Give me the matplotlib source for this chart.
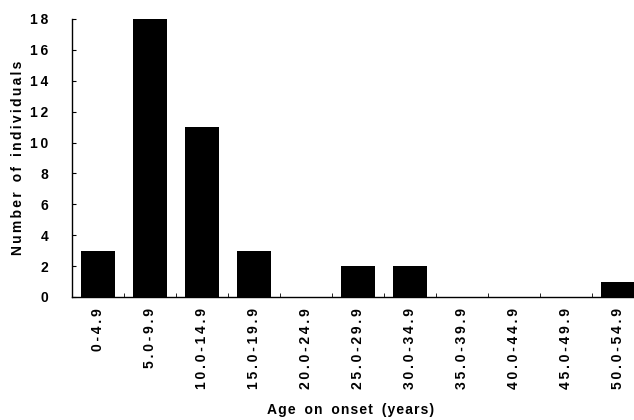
import matplotlib
matplotlib.use("Agg")
import matplotlib.pyplot as plt
import numpy as np

categories = ["0-4.9", "5.0-9.9", "10.0-14.9", "15.0-19.9", "20.0-24.9",
              "25.0-29.9", "30.0-34.9", "35.0-39.9", "40.0-44.9",
              "45.0-49.9", "50.0-54.9"]
counts = [3, 18, 11, 3, 0, 2, 2, 0, 0, 0, 1]
y_ticks = [0, 2, 4, 6, 8, 10, 12, 14, 16, 18]

FAM = ['Liberation Sans', 'DejaVu Sans']
plt.rcParams['font.family'] = FAM


def spaced(s, gap='\u2009'):
    return gap.join(s).replace(gap + ' ' + gap, ' ' + gap + ' ')


fig = plt.figure(figsize=(6.34, 4.2), dpi=100)
ax = fig.add_axes([72/634, 1-297/420, 1-72/634, (297-19)/420])

x = np.arange(len(categories))
ax.bar(x, counts, width=0.65, color='black')

ax.set_xlim(-0.5, len(categories) - 0.69)
ax.set_ylim(0, 18)
ax.set_yticks(y_ticks)
ax.set_yticklabels([spaced(str(v)) for v in y_ticks], fontsize=10, fontweight='bold')
ax.set_xticks(x)
ax.set_xticklabels([spaced(c) for c in categories], rotation=90, fontsize=10,
                   fontweight='bold')
ax.set_xticks(x[:-1] + 0.5, minor=True)

for s in ['top', 'right']:
    ax.spines[s].set_visible(False)
ax.spines['left'].set_linewidth(1.0)
ax.spines['bottom'].set_linewidth(1.0)

ax.tick_params(axis='y', direction='in', length=3, pad=17)
ax.tick_params(axis='x', which='major', length=0, pad=8)
ax.tick_params(axis='x', which='minor', direction='in', length=3)

fig.text(351/634, 1-410/420, spaced("Age on onset (years)", '\u200a'),
         ha='center', va='center', fontsize=10, fontweight='bold')
fig.text(18/634, 1-158/420, spaced("Number of individuals", '\u2006'),
         ha='center', va='center', rotation=90, fontsize=10, fontweight='bold')

fig.savefig("out.png", dpi=100)
